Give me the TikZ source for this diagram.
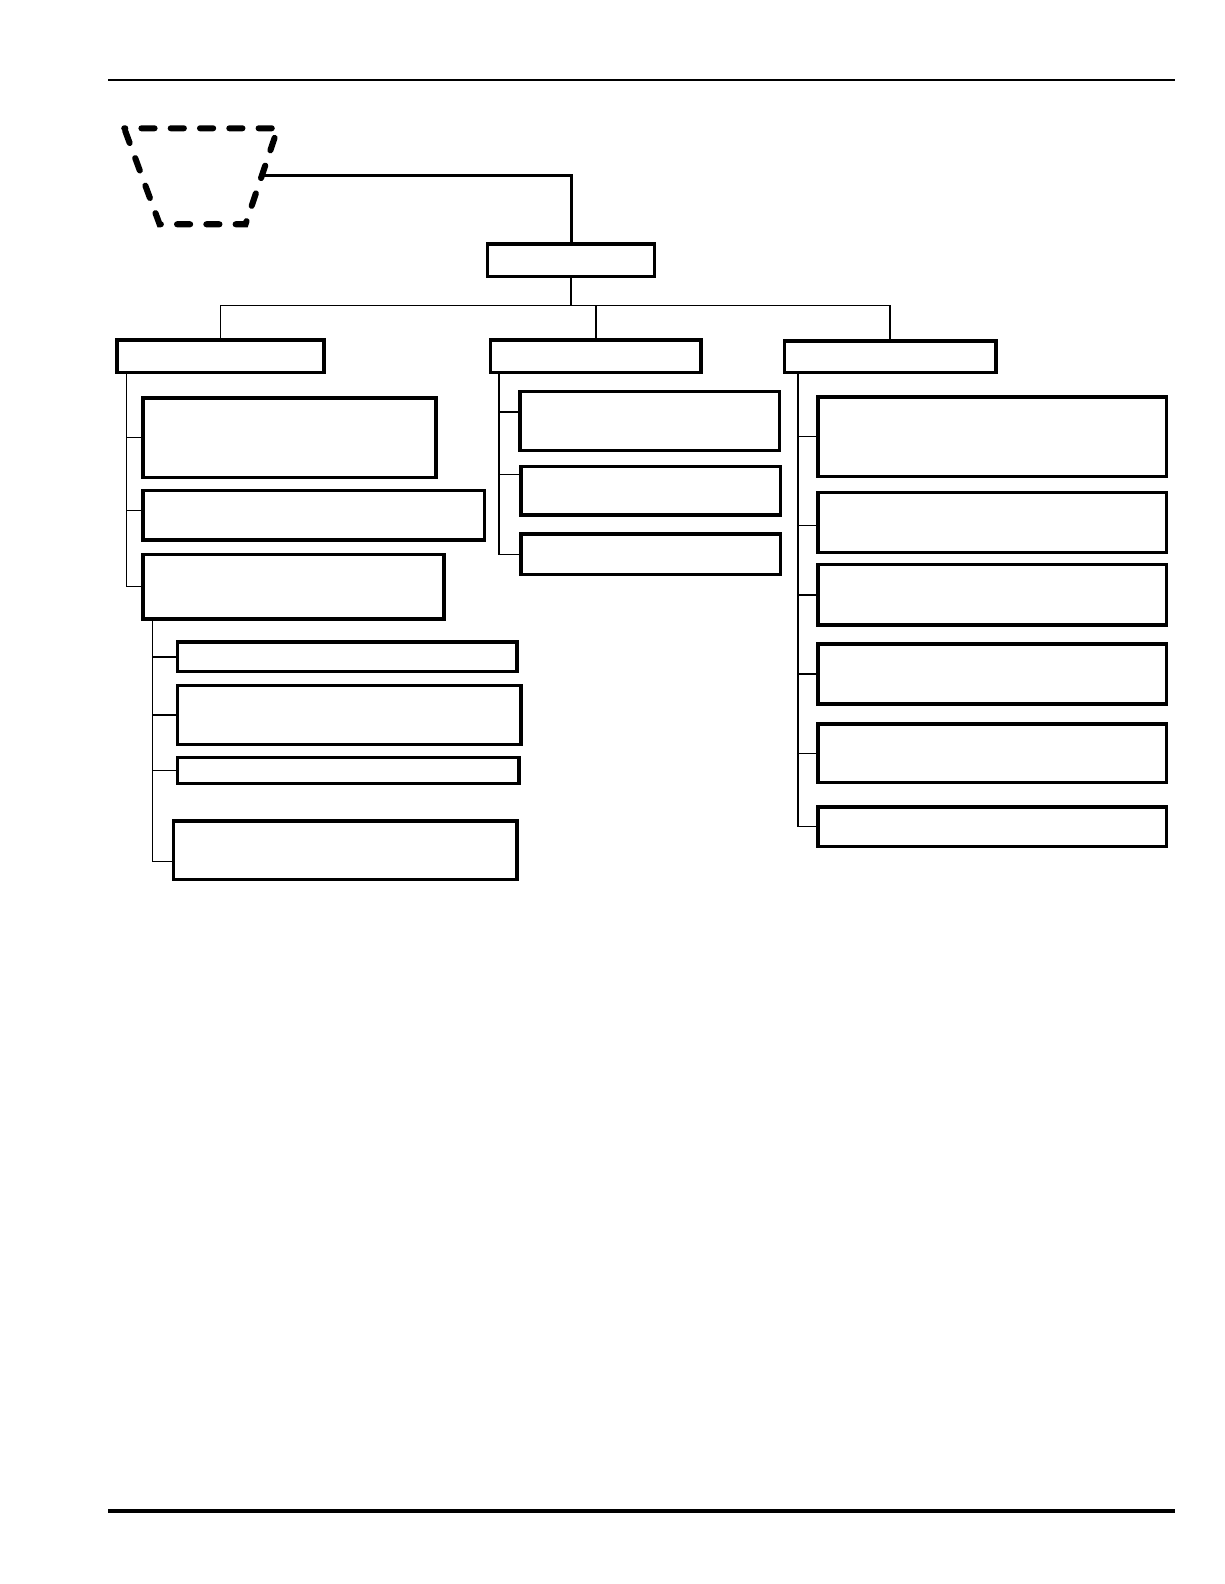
\documentclass[tikz,border=0pt]{standalone}
\usepackage{tikz}
\usetikzlibrary{calc,positioning}

\tikzset{
  box/.style={draw=black, rectangle, line width=3.5bp, anchor=north west, inner sep=0pt},
  link/.style={draw=black, line width=1.5bp},
  headlink/.style={draw=black, line width=3bp}
}

\begin{document}
\begin{tikzpicture}[x=1bp,y=-1bp]
	\tikzstyle{every node}+=[inner sep=0pt]
	\useasboundingbox (0,0) rectangle (1212,1568);
	\draw [black, line width=2bp] (107,79) -- (1163,79);
	\draw [black, line width=4bp] (107,1496) -- (1163,1496);
	% dashed trapezoid
	\coordinate (tl) at (123,127);
	\coordinate (tr) at (275,127);
	\coordinate (br) at (243,222);
	\coordinate (bl) at (158,222);
	\coordinate (tz) at ($(tr)!0.49!(br)$);
	\draw [black, line width=6bp, line cap=round, dash pattern=on 13bp off 16bp, dash phase=12bp] (tl) -- (tr) -- (br) -- (bl) -- cycle;
	% top box
	\node [box, minimum width=165bp, minimum height=32bp] (top) at (481,240) {};
	\draw [headlink] (tz) -| (top.north);
	% second level
	\node [box, minimum width=205bp, minimum height=32bp] (L) at (114,335) {};
	\node [box, minimum width=208bp, minimum height=32bp] (M) at (484,335) {};
	\node [box, minimum width=209bp, minimum height=31bp] (R) at (775,336) {};
	\coordinate (bus) at ($(top.south)+(0,27)$);
	\draw [link] (top.south) -- (bus);
	\draw [link] (bus) -| (L.north);
	\draw [link] (bus) -| (M.north);
	\draw [link] (bus) -| (R.north);
	% left branch
	\node [box, minimum width=290bp, minimum height=79bp] (La) at (140,392) {};
	\node [box, minimum width=338bp, minimum height=49bp] (Lb) at (140,484) {};
	\node [box, minimum width=298bp, minimum height=64bp] (Lc) at (140,547) {};
	\draw [link] ([xshift=11bp]L.south west) |- (La.west);
	\draw [link] ([xshift=11bp]L.south west) |- ([yshift=5bp]Lb.west);
	\draw [link] ([xshift=11bp]L.south west) |- (Lc.west);
	% left sub branch
	\node [box, minimum width=336bp, minimum height=29bp] (Lca) at (174,634) {};
	\node [box, minimum width=340bp, minimum height=58bp] (Lcb) at (174,677) {};
	\node [box, minimum width=338bp, minimum height=26bp] (Lcc) at (174,748) {};
	\node [box, minimum width=340bp, minimum height=58bp] (Lcd) at (170,811) {};
	\draw [link] ([xshift=11bp]Lc.south west) |- (Lca.west);
	\draw [link] ([xshift=11bp]Lc.south west) |- (Lcb.west);
	\draw [link] ([xshift=11bp]Lc.south west) |- (Lcc.west);
	\draw [link] ([xshift=11bp]Lc.south west) |- ([yshift=-11bp]Lcd.west);
	% middle branch
	\node [box, minimum width=257bp, minimum height=58bp] (Ma) at (513,386) {};
	\node [box, minimum width=257bp, minimum height=48bp] (Mb) at (514,460) {};
	\node [box, minimum width=257bp, minimum height=40bp] (Mc) at (514,527) {};
	\draw [link] ([xshift=10bp]M.south west) |- ([yshift=9bp]Ma.west);
	\draw [link] ([xshift=10bp]M.south west) |- ([yshift=16bp]Mb.west);
	\draw [link] ([xshift=10bp]M.south west) |- (Mc.west);
	% right branch
	\node [box, minimum width=345bp, minimum height=79bp] (Ra) at (808,391) {};
	\node [box, minimum width=345bp, minimum height=59bp] (Rb) at (808,486) {};
	\node [box, minimum width=345bp, minimum height=60bp] (Rc) at (808,557) {};
	\node [box, minimum width=345bp, minimum height=59bp] (Rd) at (808,636) {};
	\node [box, minimum width=345bp, minimum height=58bp] (Re) at (808,715) {};
	\node [box, minimum width=345bp, minimum height=39bp] (Rf) at (808,797) {};
	\draw [link] ([xshift=15bp]R.south west) |- (Ra.west);
	\draw [link] ([xshift=15bp]R.south west) |- ([yshift=-3bp]Rb.west);
	\draw [link] ([xshift=15bp]R.south west) |- (Rc.west);
	\draw [link] ([xshift=15bp]R.south west) |- (Rd.west);
	\draw [link] ([xshift=15bp]R.south west) |- (Re.west);
	\draw [link] ([xshift=15bp]R.south west) |- (Rf.west);
\end{tikzpicture}
\end{document}
